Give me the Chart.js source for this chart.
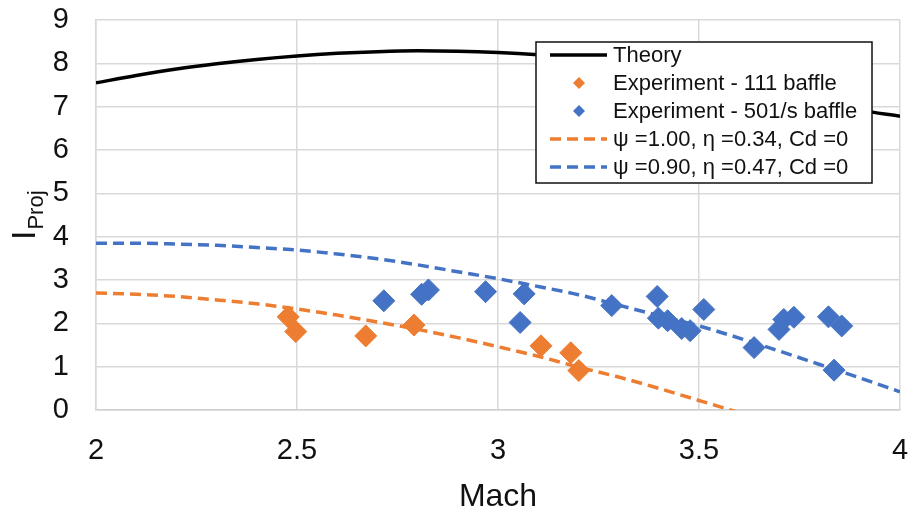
<!DOCTYPE html>
<html>
<head>
<meta charset="utf-8">
<script src="https://cdn.jsdelivr.net/npm/chart.js@4/dist/chart.umd.min.js"></script>
<style>
  html, body { margin: 0; padding: 0; background: #fff; }
  #wrap { width: 914px; height: 514px; }
</style>
</head>
<body>
<div id="wrap"><canvas id="chart" width="914" height="514"></canvas></div>
<script>
// 理论曲线
const theoryMach = [2.0, 2.1, 2.2, 2.3, 2.4, 2.5, 2.6, 2.7, 2.8, 2.9, 3.0, 3.1, 3.2, 3.3, 3.4, 3.5, 3.6, 3.7, 3.8, 3.9, 4.0];
const theoryI = [7.55, 7.72, 7.87, 7.99, 8.09, 8.17, 8.23, 8.27, 8.29, 8.28, 8.25, 8.20, 8.13, 8.02, 7.88, 7.72, 7.54, 7.34, 7.12, 6.92, 6.78];

// 实验点 - 111 baffle
const exp111Mach = [2.478, 2.497, 2.671, 2.791, 3.107, 3.181, 3.201];
const exp111I = [2.15, 1.81, 1.71, 1.96, 1.48, 1.32, 0.91];

// 实验点 - 501/s baffle
const exp501Mach = [2.716, 2.810, 2.827, 2.969, 3.065, 3.055, 3.283, 3.396, 3.399, 3.422, 3.457, 3.478, 3.512, 3.637, 3.699, 3.711, 3.736, 3.822, 3.855, 3.836];
const exp501I = [2.52, 2.67, 2.77, 2.73, 2.68, 2.02, 2.41, 2.62, 2.12, 2.06, 1.88, 1.83, 2.32, 1.44, 1.86, 2.09, 2.14, 2.15, 1.94, 0.92];

// 模型曲线
const modelMach = [2.0, 2.1, 2.2, 2.3, 2.4, 2.5, 2.6, 2.7, 2.8, 2.9, 3.0, 3.1, 3.2, 3.3, 3.4, 3.5, 3.6, 3.7, 3.8, 3.9, 4.0];
const model100I = [2.70, 2.67, 2.62, 2.54, 2.45, 2.33, 2.19, 2.03, 1.86, 1.67, 1.46, 1.24, 0.99, 0.76, 0.50, 0.22, -0.06, null, null, null, null];
const model090I = [3.85, 3.85, 3.83, 3.80, 3.75, 3.69, 3.60, 3.49, 3.35, 3.19, 3.03, 2.85, 2.66, 2.42, 2.18, 1.94, 1.66, 1.36, 1.05, 0.74, 0.42];

const xTicks = [2, 2.5, 3, 3.5, 4];
const yTicks = [0, 1, 2, 3, 4, 5, 6, 7, 8, 9];

const ORANGE = "#ED7D31";
const BLUE = "#4472C4";
const FONT = "'Liberation Sans', Arial, sans-serif";

function toPoints(xs, ys) {
  const pts = [];
  xs.forEach((x, i) => {
    if (ys[i] !== null && ys[i] !== undefined) pts.push({ x, y: ys[i] });
  });
  return pts;
}

// 图内图例（白底黑框）
const boxLegend = {
  id: "boxLegend",
  afterDatasetsDraw(chart) {
    const ctx = chart.ctx;
    const bx = 536, by = 42, bw = 336, bh = 141;
    ctx.save();
    ctx.fillStyle = "#fff";
    ctx.fillRect(bx, by, bw, bh);
    ctx.strokeStyle = "#111";
    ctx.lineWidth = 1.5;
    ctx.strokeRect(bx, by, bw, bh);

    ctx.font = `22px ${FONT}`;
    ctx.textBaseline = "middle";
    ctx.textAlign = "left";
    const order = [0, 1, 2, 3, 4];
    order.forEach((di, row) => {
      const ds = chart.data.datasets[di];
      const cy = by + 13 + row * 28;
      if (ds.showLine) {
        ctx.strokeStyle = ds.borderColor;
        ctx.lineWidth = 3.5;
        ctx.setLineDash(ds.borderDash || []);
        ctx.beginPath();
        ctx.moveTo(550, cy);
        ctx.lineTo(607, cy);
        ctx.stroke();
        ctx.setLineDash([]);
      } else {
        ctx.fillStyle = ds.backgroundColor;
        ctx.beginPath();
        ctx.moveTo(579 - 6, cy);
        ctx.lineTo(579, cy - 6);
        ctx.lineTo(579 + 6, cy);
        ctx.lineTo(579, cy + 6);
        ctx.closePath();
        ctx.fill();
      }
      ctx.fillStyle = "#111";
      ctx.fillText(ds.label, 613, cy + 1);
    });
    ctx.restore();
  },
};

// 纵轴标题 I_Proj（带下标）
const yTitle = {
  id: "yTitle",
  afterDraw(chart) {
    const ctx = chart.ctx;
    ctx.save();
    ctx.translate(35, 240);
    ctx.rotate(-Math.PI / 2);
    ctx.fillStyle = "#111";
    ctx.textBaseline = "alphabetic";
    ctx.textAlign = "left";
    ctx.font = `34px ${FONT}`;
    ctx.fillText("I", 0, 0);
    const w = ctx.measureText("I").width;
    ctx.font = `22px ${FONT}`;
    ctx.fillText("Proj", w + 1, 8);
    ctx.restore();
  },
};

new Chart(document.getElementById("chart"), {
  type: "scatter",
  data: {
    datasets: [
      {
        label: "Theory",
        data: toPoints(theoryMach, theoryI),
        showLine: true,
        borderColor: "#000",
        backgroundColor: "#000",
        borderWidth: 3.5,
        pointRadius: 0,
        cubicInterpolationMode: "monotone",
        order: 3,
      },
      {
        label: "Experiment - 111 baffle",
        data: toPoints(exp111Mach, exp111I),
        showLine: false,
        pointStyle: "rectRot",
        pointRadius: 11,
        borderWidth: 1,
        borderColor: ORANGE,
        backgroundColor: ORANGE,
        order: 1,
      },
      {
        label: "Experiment - 501/s baffle",
        data: toPoints(exp501Mach, exp501I),
        showLine: false,
        pointStyle: "rectRot",
        pointRadius: 11,
        borderWidth: 1,
        borderColor: BLUE,
        backgroundColor: BLUE,
        order: 1,
      },
      {
        label: "ψ =1.00, η =0.34, Cd =0",
        data: toPoints(modelMach, model100I),
        showLine: true,
        borderColor: ORANGE,
        backgroundColor: ORANGE,
        borderWidth: 3.5,
        borderDash: [11, 6],
        pointRadius: 0,
        cubicInterpolationMode: "monotone",
        order: 2,
      },
      {
        label: "ψ =0.90, η =0.47, Cd =0",
        data: toPoints(modelMach, model090I),
        showLine: true,
        borderColor: BLUE,
        backgroundColor: BLUE,
        borderWidth: 3.5,
        borderDash: [11, 6],
        pointRadius: 0,
        cubicInterpolationMode: "monotone",
        order: 2,
      },
    ],
  },
  options: {
    responsive: false,
    animation: false,
    devicePixelRatio: 1,
    layout: { padding: { top: 20, right: 14, left: 0, bottom: 0 } },
    plugins: {
      legend: { display: false },
      tooltip: { enabled: false },
    },
    scales: {
      x: {
        type: "linear",
        min: 2,
        max: 4,
        afterBuildTicks: (s) => { s.ticks = xTicks.map((v) => ({ value: v })); },
        afterFit: (s) => {
          s.height = 104;
          s.paddingLeft = 0;
          s.paddingRight = 0;
        },
        ticks: {
          font: { size: 29, family: FONT },
          color: "#111",
          padding: 24,
          callback: (v) => `${v}`,
        },
        grid: { color: "#d9d9d9", lineWidth: 1.5, drawTicks: false },
        border: { color: "#d0d0d0", width: 1.5 },
        title: {
          display: true,
          text: "Mach",
          font: { size: 32, family: FONT },
          color: "#111",
          padding: { top: 0, bottom: -2 },
        },
      },
      y: {
        type: "linear",
        min: 0,
        max: 9,
        afterBuildTicks: (s) => { s.ticks = yTicks.map((v) => ({ value: v })); },
        afterFit: (s) => {
          s.width = 96;
          s.paddingTop = 0;
          s.paddingBottom = 0;
        },
        ticks: { font: { size: 29, family: FONT }, color: "#111", padding: 27 },
        grid: { color: "#d9d9d9", lineWidth: 1.5, drawTicks: false },
        border: { color: "#d9d9d9", width: 1.5 },
      },
    },
  },
  plugins: [boxLegend, yTitle],
});
</script>
</body>
</html>
